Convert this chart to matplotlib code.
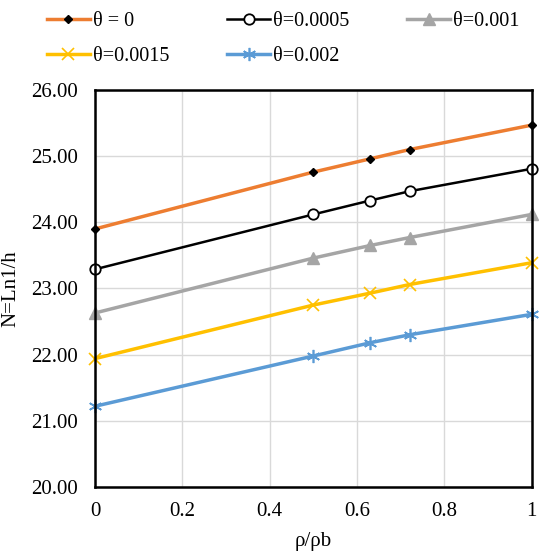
import numpy as np
import matplotlib.pyplot as plt

plt.rcParams['font.family'] = ['Liberation Serif', 'DejaVu Serif']

rho = [0, 0.5, 0.63, 0.72, 1]
n_t0 = [23.90, 24.76, 24.96, 25.10, 25.47]
n_t0005 = [23.29, 24.12, 24.33, 24.47, 24.81]
n_t001 = [22.63, 23.46, 23.65, 23.77, 24.12]
n_t0015 = [21.94, 22.75, 22.93, 23.06, 23.39]
n_t002 = [21.22, 21.98, 22.18, 22.30, 22.61]

labels = ["θ = 0", "θ=0.0005", "θ=0.001", "θ=0.0015", "θ=0.002"]

fig = plt.figure(figsize=(5.5, 5.54), dpi=100)
ax = fig.add_axes([0.1727, 0.121, 0.7943, 0.7165])

ax.plot(rho, n_t0, color="#ED7D31", lw=2.5, marker="D", ms=4,
        mfc="black", mec="black", label=labels[0])
ax.plot(rho, n_t0005, color="black", lw=1.8, marker="o", ms=7.5,
        mfc="white", mec="black", mew=1.3, label=labels[1])
ax.plot(rho, n_t001, color="#A5A5A5", lw=2.5, marker="^", ms=9,
        mfc="#A5A5A5", mec="#A5A5A5", label=labels[2])
ax.plot(rho, n_t0015, color="#FFC000", lw=2.5, marker="x", ms=8,
        mew=1.2, label=labels[3])
ax.plot(rho, n_t002, color="#5B9BD5", lw=2.5, marker=(6, 2, 0), ms=9.5,
        mew=1.2, label=labels[4])

ax.set_xlim(0, 1)
ax.set_ylim(20, 26)
ax.set_xticks(np.arange(0, 1.01, 0.2))
ax.set_xticklabels(["0", "0.2", "0.4", "0.6", "0.8", "1"])
ax.set_yticks(np.arange(20, 26.01, 1))
ax.set_yticklabels([f"{v:.2f}" for v in np.arange(20, 26.01, 1)])
ax.tick_params(axis="y", labelsize=15, length=0, pad=12)
ax.tick_params(axis="x", labelsize=15, length=0, pad=11)
ax.grid(True, color="#D9D9D9", lw=1)
ax.set_axisbelow(True)
for s in ax.spines.values():
    s.set_linewidth(1.8)
    s.set_color("black")
for l in ax.lines:
    l.set_clip_on(False)

ax.set_xlabel("ρ/ρb", fontsize=15, labelpad=8)
ax.set_ylabel("N=Ln1/h", fontsize=15, labelpad=8)

# legend filled column by column, so reorder to read row by row
h, l = ax.get_legend_handles_labels()
order = [0, 3, 1, 4, 2]
fig.legend([h[i] for i in order], [l[i] for i in order],
           loc="upper left", bbox_to_anchor=(0.086, 0.978), ncol=3,
           frameon=False, fontsize=14.5, handlelength=2.1, columnspacing=2.9,
           handletextpad=0.15, labelspacing=0.8, borderpad=0,
           borderaxespad=0)

plt.savefig("out.png", dpi=100)
